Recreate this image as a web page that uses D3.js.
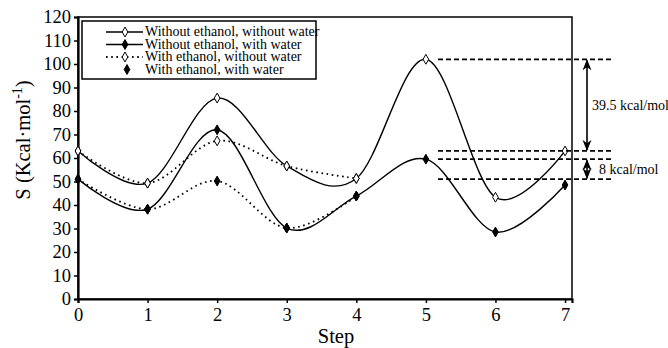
<!DOCTYPE html>
<html>
<head>
<meta charset="utf-8">
<script src="https://cdn.jsdelivr.net/npm/d3@7"></script>
<style>
  body { margin: 0; background: #fff; }
</style>
</head>
<body>
<div id="chart"></div>
<script>
// data
var steps = [0, 1, 2, 3, 4, 5, 6, 7];
var noEthNoWater = [63, 49.3, 85.5, 56.6, 51.3, 102, 43.3, 63];
var noEthWater = [51, 38.2, 72, 30.2, 43.8, 59.5, 28.5, 48.5];
var ethNoWater = [63, 49.3, 67.3, 56.6, 51.3];
var ethWater = [51, 38.2, 50.2, 30.2, 43.8];
var yTicks = [0, 10, 20, 30, 40, 50, 60, 70, 80, 90, 100, 110, 120];
var seriesNames = ["Without ethanol, without water", "Without ethanol, with water",
                   "With ethanol, without water", "With ethanol, with water"];
// reference levels for the gap annotations
var refLevels = [102, 63, 59.5, 51];
var gapLabels = ["39.5 kcal/mol", "8 kcal/mol"];

var serif = "'Liberation Serif'";
var width = 668, height = 348;
var margin = {top: 17, right: 96, bottom: 49, left: 78};

var svg = d3.select("#chart").append("svg")
  .attr("width", width).attr("height", height);

svg.append("defs").append("marker")
  .attr("id", "arr").attr("viewBox", "0 0 10 10")
  .attr("refX", 9).attr("refY", 5)
  .attr("markerWidth", 7).attr("markerHeight", 7)
  .attr("orient", "auto-start-reverse")
  .append("path").attr("d", "M0,1 L10,5 L0,9 L3,5 Z").attr("fill", "#000");

var x = d3.scaleLinear().domain([0, 7.1]).range([margin.left, width - margin.right]);
var y = d3.scaleLinear().domain([0, 120]).range([height - margin.bottom, margin.top]);

// frame
svg.append("rect")
  .attr("x", x(0)).attr("y", y(120))
  .attr("width", x(7.1) - x(0)).attr("height", y(0) - y(120))
  .attr("fill", "none").attr("stroke", "#000").attr("stroke-width", 1.5);

var yAxis = svg.append("g")
  .attr("transform", "translate(" + x(0) + ",0)")
  .call(d3.axisLeft(y).tickValues(yTicks).tickSize(4).tickPadding(3));
var xAxis = svg.append("g")
  .attr("transform", "translate(0," + y(0) + ")")
  .call(d3.axisBottom(x).tickValues(steps).tickSize(4).tickPadding(5));
[yAxis, xAxis].forEach(function(a) {
  a.select(".domain").attr("stroke-width", 2.2);
  a.selectAll(".tick line").attr("stroke-width", 1.5);
  a.selectAll("text").style("font-size", "18.5px").style("font-family", serif);
});

svg.append("text")
  .attr("x", 336).attr("y", 343)
  .attr("text-anchor", "middle")
  .style("font-size", "20.5px").style("font-family", serif)
  .text("Step");

var yl = svg.append("text")
  .attr("transform", "translate(30,140) rotate(-90)")
  .attr("text-anchor", "middle")
  .style("font-size", "20.5px").style("font-family", serif);
yl.append("tspan").text("S (Kcal\u00b7mol");
yl.append("tspan").attr("dy", -8).style("font-size", "14px").text("-1");
yl.append("tspan").attr("dy", 8).text(")");

var line = d3.line()
  .x(function(d, i) { return x(steps[i]); })
  .y(function(d) { return y(d); })
  .curve(d3.curveCardinal.tension(0));

var series = [
  {vals: noEthNoWater, dash: null, open: true},
  {vals: noEthWater, dash: null, open: false},
  {vals: ethNoWater, dash: "1.6,3.6", open: true},
  {vals: ethWater, dash: "1.6,3.6", open: false}
];

var diamond = d3.symbol().type(d3.symbolDiamond).size(28);

series.forEach(function(s) {
  svg.append("path")
    .attr("d", line(s.vals))
    .attr("fill", "none").attr("stroke", "#000")
    .attr("stroke-width", s.dash ? 1.8 : 1.4)
    .attr("stroke-dasharray", s.dash);
});
series.forEach(function(s) {
  svg.selectAll(null).data(s.vals).enter().append("path")
    .attr("d", diamond)
    .attr("transform", function(d, i) { return "translate(" + x(steps[i]) + "," + y(d) + ")"; })
    .attr("fill", s.open ? "#fff" : "#000")
    .attr("stroke", "#000").attr("stroke-width", 1);
});

// legend
var lg = svg.append("g");
lg.append("rect").attr("x", 82).attr("y", 21).attr("width", 234).attr("height", 58)
  .attr("fill", "#fff").attr("stroke", "#000").attr("stroke-width", 1.5);
seriesNames.forEach(function(name, i) {
  var s = series[i], ly = 32 + i * 12.5;
  if (i < 3) {
    lg.append("line").attr("x1", 106).attr("x2", 143).attr("y1", ly).attr("y2", ly)
      .attr("stroke", "#000").attr("stroke-width", s.dash ? 1.8 : 1.4)
      .attr("stroke-dasharray", s.dash);
  }
  lg.append("path").attr("d", diamond)
    .attr("transform", "translate(" + (i === 3 ? 127 : 125) + "," + ly + ")")
    .attr("fill", s.open ? "#fff" : "#000").attr("stroke", "#000");
  lg.append("text").attr("x", 145).attr("y", ly + 4)
    .style("font-size", "14px").style("font-family", serif).text(name);
});

// gap annotations
refLevels.forEach(function(v) {
  svg.append("line").attr("x1", 438).attr("x2", 614)
    .attr("y1", y(v)).attr("y2", y(v))
    .attr("stroke", "#000").attr("stroke-width", 1.8).attr("stroke-dasharray", "5,3");
});
[[refLevels[0], refLevels[1]], [refLevels[2], refLevels[3]]].forEach(function(p, i) {
  svg.append("line").attr("x1", 587).attr("x2", 587)
    .attr("y1", y(p[0]) + 1).attr("y2", y(p[1]) - 1)
    .attr("stroke", "#000").attr("stroke-width", 1.6)
    .attr("marker-start", "url(#arr)").attr("marker-end", "url(#arr)");
  svg.append("text").attr("x", i === 0 ? 592 : 599)
    .attr("y", y((p[0] + p[1]) / 2) + 5)
    .style("font-size", "14px").style("font-family", serif).text(gapLabels[i]);
});
</script>
</body>
</html>
